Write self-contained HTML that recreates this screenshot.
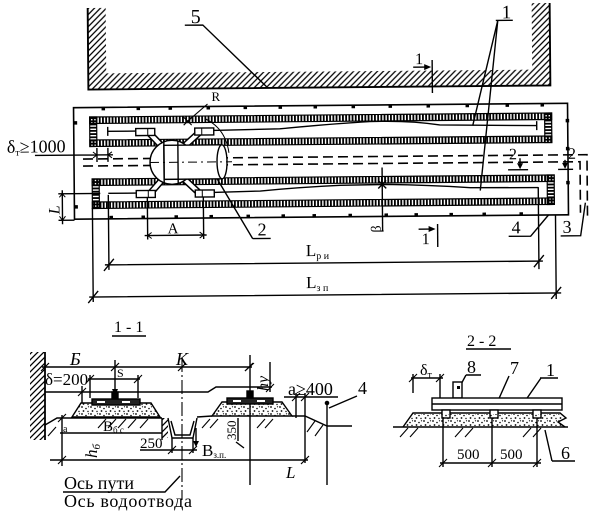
<!DOCTYPE html>
<html><head><meta charset="utf-8"><style>
html,body{margin:0;padding:0;background:#fff;}
svg{display:block;}
text{font-family:"Liberation Serif",serif;fill:#000;stroke:none;}
</style></head><body>
<svg width="600" height="511" viewBox="0 0 600 511" xmlns="http://www.w3.org/2000/svg">
<defs>
<pattern id="h" patternUnits="userSpaceOnUse" width="6" height="6"><path d="M0,6 L6,0 M-1,1 L1,-1 M5,7 L7,5" stroke="#000" stroke-width="1.3"/></pattern>
<pattern id="vt" patternUnits="userSpaceOnUse" width="3.2" height="10"><rect width="1.8" height="10" fill="#000"/></pattern>
<pattern id="ht" patternUnits="userSpaceOnUse" width="10" height="3.2"><rect width="10" height="1.8" fill="#000"/></pattern>
<pattern id="d" patternUnits="userSpaceOnUse" width="9" height="7"><circle cx="1" cy="1" r="0.9"/><circle cx="5" cy="2.5" r="0.8"/><circle cx="2.5" cy="5" r="0.9"/><circle cx="7" cy="5.5" r="0.7"/><circle cx="7.5" cy="0.8" r="0.6"/></pattern>
</defs>

<!-- ================= PLAN ================= -->
<g transform="rotate(-0.5 320 160)" fill="none" stroke="#000" stroke-width="1.4">
  <!-- walls -->
  <path d="M89,6 L107,6 L107,71.5 L533,71.5 L533,5 L551,5 L551,87.5 L89,87.5 Z" fill="url(#h)" stroke="none"/>
  <path d="M89,6 L89,87.5 L551,87.5 L551,5" stroke-width="1.9"/>
  <!-- leader 5 -->
  <text x="192" y="22" font-size="20">5</text>
  <path d="M186,24 L204,24 L268,87"/>
  <!-- leader 1 -->
  <text x="503" y="20" font-size="19">1</text>
  <path d="M497,22 L514,22 M499,22 L473,127 M499,22 L480,192"/>
  <!-- section mark 1 top -->
  <text x="416" y="65" font-size="16">1</text>
  <path d="M414,68 L428,68"/><polygon points="432,68 425,65 425,71" fill="#000" stroke="none"/>
  <path d="M433,61 L433,94"/>

  <!-- outer platform -->
  <path d="M74,105.5 L568,105.5 L568,217 L74,217 Z" stroke-width="1.6"/>
  <g fill="#000" stroke="none">
    <rect x="102" y="105" width="3.5" height="3.5"/><rect x="137" y="105" width="3.5" height="3.5"/><rect x="169" y="105" width="3.5" height="3.5"/><rect x="207" y="105" width="3.5" height="3.5"/><rect x="244" y="105" width="3.5" height="3.5"/><rect x="279" y="105" width="3.5" height="3.5"/><rect x="314" y="105" width="3.5" height="3.5"/><rect x="352" y="105" width="3.5" height="3.5"/><rect x="389" y="105" width="3.5" height="3.5"/><rect x="427" y="105" width="3.5" height="3.5"/><rect x="466" y="105" width="3.5" height="3.5"/><rect x="506" y="105" width="3.5" height="3.5"/><rect x="541" y="105" width="3.5" height="3.5"/>
    <rect x="109" y="214" width="3.5" height="3.5"/><rect x="141" y="214" width="3.5" height="3.5"/><rect x="174" y="214" width="3.5" height="3.5"/><rect x="209" y="214" width="3.5" height="3.5"/><rect x="246" y="214" width="3.5" height="3.5"/><rect x="281" y="214" width="3.5" height="3.5"/><rect x="312" y="214" width="3.5" height="3.5"/><rect x="348" y="214" width="3.5" height="3.5"/><rect x="384" y="214" width="3.5" height="3.5"/><rect x="414" y="214" width="3.5" height="3.5"/><rect x="449" y="214" width="3.5" height="3.5"/><rect x="482" y="214" width="3.5" height="3.5"/><rect x="519" y="214" width="3.5" height="3.5"/>
    <rect x="74" y="119" width="3.5" height="3.5"/><rect x="74" y="203" width="3.5" height="3.5"/>
    <rect x="566" y="121" width="3.5" height="3.5"/><rect x="566" y="149" width="3.5" height="3.5"/><rect x="566" y="183" width="3.5" height="3.5"/>
  </g>

  <!-- dashed rail lines -->
  <path d="M83,157 L587,157 L587,222 M83,164 L580,164 L580,215" stroke-dasharray="10,5" stroke-width="1.6"/>

  <!-- upper track loop -->
  <rect x="90" y="115" width="462" height="6.5" fill="url(#vt)" stroke-width="1.2"/>
  <rect x="90" y="138" width="462" height="6.5" fill="url(#vt)" stroke-width="1.2"/>
  <rect x="90" y="115" width="7" height="29.5" fill="url(#ht)" stroke-width="1.2"/>
  <rect x="545" y="115" width="7" height="29.5" fill="url(#ht)" stroke-width="1.2"/>
  <!-- lower track loop -->
  <rect x="92" y="177" width="462" height="6.5" fill="url(#vt)" stroke-width="1.2"/>
  <rect x="92" y="200" width="462" height="6.5" fill="url(#vt)" stroke-width="1.2"/>
  <rect x="92" y="177" width="7" height="29.5" fill="url(#ht)" stroke-width="1.2"/>
  <rect x="547" y="177" width="7" height="29.5" fill="url(#ht)" stroke-width="1.2"/>

  <!-- center lines in tracks -->
  <path d="M108,125 L108,134 M108,129.5 L137,129.5 M213,129.5 L280,128.5 Q330,124 370,122 Q410,121 440,126 L537,127.5 M537,123 L537,132"/>
  <path d="M108,191.5 L137,191.5 M213,191.5 L260,190.5 Q300,187 340,185.5 L385,185 Q430,186 470,189 L538,189.5"/>
  <path d="M378,181 L386,189 M386,181 L378,189"/>

  <!-- turntable / car -->
  <g stroke="#000">
    <path d="M165,148 L149,131 M181,148 L200,131 M165,175 L149,193 M181,175 L200,193" stroke-width="7"/>
    <path d="M165,148 L149,131 M181,148 L200,131 M165,175 L149,193 M181,175 L200,193" stroke="#fff" stroke-width="4"/>
    <circle cx="172" cy="161" r="22" fill="#fff"/>
    <rect x="164" y="144" width="58" height="34" fill="#fff"/>
    <ellipse cx="222" cy="161" rx="5" ry="17" fill="#fff"/>
    <path d="M164,140 L164,182 M178,139 L178,183"/>
    <path d="M150,161 L232,161" stroke-dasharray="9,4,2,4" stroke-width="1"/>
    <rect x="136" y="127" width="19" height="7" fill="#fff"/>
    <rect x="195" y="127" width="19" height="7" fill="#fff"/>
    <rect x="136" y="189" width="19" height="7" fill="#fff"/>
    <rect x="195" y="189" width="19" height="7" fill="#fff"/>
    <path d="M148,127 L148,134 M202,127 L202,134 M148,189 L148,196 M202,189 L202,196" stroke-width="1"/>
    <path d="M206,118 Q226,128 229,152" stroke-width="1"/>
  </g>
  <!-- R -->
  <text x="212" y="100" font-size="13">R</text>
  <path d="M208,103 L188,120 M184,116 L192,124 M192,116 L184,124" stroke-width="1.1"/>

  <!-- delta_t >= 1000 -->
  <text x="7" y="150" font-size="18">δ<tspan font-size="10" dy="3">т</tspan><tspan dy="-3">≥1000</tspan></text>
  <path d="M35,153 L113,153 M97,146 L97,160 M108,146 L108,160"/>
  <path d="M93,150 L97,153 L93,156 M112,150 L108,153 L112,156" stroke-width="1"/>

  <!-- L dim left -->
  <path d="M58,191.5 L100,191.5 M58,218 L74,218 M62,188 L62,222"/>
  <path d="M59,195 L62,191.5 L65,195 M59,214 L62,218 L65,214" stroke-width="1"/>
  <text transform="translate(59,212) rotate(-90)" font-size="16" font-style="italic">L</text>

  <!-- A dim -->
  <path d="M147,196 L147,238 M203,196 L203,238 M144,234 L206,234"/>
  <path d="M151,231 L147,234 L151,237 M199,231 L203,234 L199,237" stroke-width="1"/>
  <text x="167" y="232" font-size="15">A</text>

  <!-- leader 2 -->
  <text x="257" y="235" font-size="18">2</text>
  <path d="M252,238 L270,238 M252,238 L217,178"/>

  <!-- beta -->
  <path d="M382,168 L382,232"/>
  <text transform="translate(380,233) rotate(-90)" font-size="14">β</text>

  <!-- section mark 1 bottom -->
  <text x="421" y="245" font-size="16">1</text>
  <path d="M418,230 L430,230"/><polygon points="435,230 428,227 428,233" fill="#000" stroke="none"/>
  <path d="M437,225 L437,248"/>

  <!-- section marks 2 -->
  <text x="509" y="161" font-size="16">2</text>
  <path d="M520,160 L520,168 M508,171.5 L528,171.5"/><polygon points="520,171 517,165 523,165" fill="#000" stroke="none"/>
  <text x="568" y="161" font-size="16">2</text>
  <path d="M565,162 L565,168 M558,171.5 L573,171.5"/><polygon points="565,171 562,165 568,165" fill="#000" stroke="none"/>

  <!-- leaders 4, 3 -->
  <text x="511" y="235" font-size="18">4</text>
  <path d="M508,238 L530,238 L548,217"/>
  <text x="562" y="235" font-size="18">3</text>
  <path d="M560,238 L580,238 L585,205"/>

  <!-- extension lines & overall dims -->
  <path d="M108,193 L108,268 M92,206 L92,300 M538,189 L538,271 M555,217 L555,301"/>
  <path d="M104,263 L542,263 M88,295 L560,295"/>
  <path d="M103,269 L113,257 M533,269 L543,257 M87,301 L97,289 M550,301 L560,289" stroke-width="1.4"/>
  <text x="305" y="256" font-size="17">L<tspan font-size="10" dy="3">р и</tspan></text>
  <text x="305" y="288" font-size="17">L<tspan font-size="10" dy="3">з п</tspan></text>
</g>

<!-- ================= SECTION 1-1 ================= -->
<g fill="none" stroke="#000" stroke-width="1.4">
  <text x="114" y="332" font-size="16">1 - 1</text>
  <path d="M112,336 L146,336"/>
  <!-- wall -->
  <rect x="30" y="352" width="15" height="88" fill="url(#h)" stroke="none"/>
  <path d="M45,352 L45,440" stroke-width="1.8"/>
  <text x="70" y="365" font-size="18" font-style="italic">Б</text>
  <text x="176" y="365" font-size="18" font-style="italic">K</text>
  <path d="M42,367 L252,367"/>
  <path d="M41,371 L49,363 M111,371 L119,363 M178,371 L186,363 M245,371 L253,363" stroke-width="1.2"/>
  <path d="M115,360 L115,398"/><polygon points="112,389 118,389 115,396" fill="#000" stroke="none"/>
  <path d="M182,358 L182,500" stroke-dasharray="14,3,2,3" stroke-width="1.1"/>
  <path d="M250,355 L250,485"/>
  <!-- delta=200, S -->
  <text x="45" y="385" font-size="17">δ=200</text>
  <text x="117" y="377" font-size="12">S</text>
  <path d="M88,379 L140,379 M90,375 L90,398 M138,375 L138,398"/>
  <path d="M86,383 L94,375 M134,383 L142,375" stroke-width="1.1"/>
  <path d="M45,392 L208,392 L216,387 L272,387 M82,386 L82,403"/>
  <path d="M78,396 L86,388" stroke-width="1.1"/>
  <!-- hy -->
  <path d="M270,362 L270,392"/>
  <path d="M245,371 L254,363 M266,392 L274,384" stroke-width="1.1"/>
  <text transform="translate(268,391) rotate(-90)" font-size="16" font-style="italic">hy</text>
  <!-- left ballast -->
  <polygon points="72,417 81,403 151,403 160,417" fill="url(#d)"/>
  <rect x="92" y="399" width="48" height="6" fill="#222"/>
  <rect x="97" y="401" width="8" height="2" fill="#fff" stroke="none"/><rect x="122" y="401" width="8" height="2" fill="#fff" stroke="none"/>
  <rect x="112" y="392" width="6" height="7" fill="#000"/>
  <!-- ground left -->
  <path d="M45,425 L57,418 L162,418 M60,433 L162,433"/>
  <path d="M162,418 L162,440"/>
  <rect x="162" y="418" width="6" height="20" fill="url(#h)" stroke="none"/>
  <path d="M168,418 L172,438 L193,438 L197,418 M171,421 L175,435 L190,435 L194,421"/>
  <path d="M197,417 L212,416"/>
  <path d="M98,428 L106,419 M108,428 L116,419 M118,428 L126,419 M128,428 L136,419 M140,428 L148,419 M48,436 L56,427" stroke-width="1.1"/>
  <text x="63" y="432" font-size="10">a</text>
  <text x="103" y="431" font-size="15">B<tspan font-size="9" dy="2">б с</tspan></text>
  <!-- hb -->
  <path d="M62,415 L62,466"/>
  <path d="M58,422 L66,414 M58,464 L66,456" stroke-width="1.1"/>
  <text transform="translate(97,458) rotate(-90)" font-size="17" font-style="italic">h<tspan font-size="11" dy="3">б</tspan></text>
  <path d="M50,460 L308,460"/>
  <path d="M301,464 L309,456" stroke-width="1.2"/>
  <!-- 250 -->
  <text x="140" y="448" font-size="15">250</text>
  <path d="M140,450 L197,450 M172,438 L172,453 M193,438 L193,453"/>
  <path d="M168,454 L176,446 M189,454 L197,446" stroke-width="1.1"/>
  <path d="M196,428 L196,445"/><polygon points="196,447 193,441 199,441" fill="#000" stroke="none"/>
  <text x="202" y="456" font-size="17">B<tspan font-size="9" dy="2">з.п.</tspan></text>
  <!-- right ballast -->
  <polygon points="212,416 222,402 282,402 292,416" fill="url(#d)"/>
  <rect x="227" y="398" width="46" height="6" fill="#222"/>
  <rect x="233" y="400" width="8" height="2" fill="#fff" stroke="none"/><rect x="257" y="400" width="8" height="2" fill="#fff" stroke="none"/>
  <rect x="247" y="391" width="6" height="7" fill="#000"/>
  <path d="M292,416 L305,416 L327,426 L352,426"/>
  <path d="M202,428 L210,419 M210,428 L218,419 M257,428 L265,419 M265,428 L273,419 M307,432 L315,421 M315,436 L323,425" stroke-width="1.1"/>
  <!-- 350 -->
  <path d="M238,418 L238,441 M236,442 L244,448"/>
  <text transform="translate(236,440) rotate(-90)" font-size="13">350</text>
  <!-- a>=400 -->
  <text x="288" y="395" font-size="18">a≥400</text>
  <path d="M284,397 L338,397 M296,393 L296,418 M305,393 L305,463"/>
  <path d="M292,401 L300,393 M301,401 L309,393" stroke-width="1.1"/>
  <text x="358" y="394" font-size="18">4</text>
  <path d="M357,396 L329,408 M327,403 L327,485"/>
  <circle cx="327" cy="403" r="1.6" fill="#000"/>
  <text x="286" y="478" font-size="17" font-style="italic">L</text>
  <!-- axes labels -->
  <text x="64" y="489" font-size="18" textLength="70">Ось пути</text>
  <path d="M63,492 L165,492 L180,476"/>
  <text x="64" y="507" font-size="18" textLength="128">Ось водоотвода</text>
</g>

<!-- ================= SECTION 2-2 ================= -->
<g fill="none" stroke="#000" stroke-width="1.4">
  <text x="467" y="346" font-size="16">2 - 2</text>
  <path d="M466,349 L511,349"/>
  <text x="420" y="375" font-size="16">δ<tspan font-size="10" dy="3">т</tspan></text>
  <path d="M411,378 L443,378 M413,374 L413,393 M440,374 L440,400"/>
  <path d="M409,382 L417,374 M436,382 L444,374" stroke-width="1.1"/>
  <text x="467" y="373" font-size="18">8</text>
  <path d="M466,375 L481,375 M466,375 L459,388"/>
  <rect x="453" y="382" width="9" height="16" fill="#fff"/>
  <rect x="457" y="386" width="3" height="3" fill="#000" stroke="none"/>
  <text x="510" y="374" font-size="18">7</text>
  <path d="M509,376 L493,412"/>
  <text x="546" y="376" font-size="18">1</text>
  <path d="M540,378 L558,378 M541,378 L523,404"/>
  <!-- beam -->
  <rect x="432" y="398" width="130" height="12" fill="#fff"/>
  <path d="M432,404 L562,404"/>
  <rect x="442" y="410" width="8" height="8" fill="#fff"/>
  <rect x="490" y="410" width="8" height="8" fill="#fff"/>
  <rect x="533" y="410" width="8" height="8" fill="#fff"/>
  <!-- ballast 6 -->
  <path d="M403,427 L413,413 L442,413 M450,413 L490,413 M498,413 L533,413 M541,413 L560,413 L566,418 L558,422 L565,427" fill="none"/>
  <polygon points="404,426 413,414 559,414 564,418 557,422 563,426" fill="url(#d)" stroke="none"/>
  <path d="M393,427 L568,427"/>
  <path d="M400,437 L408,428 M410,437 L418,428 M455,437 L463,428 M465,437 L473,428 M523,437 L531,428 M533,437 L541,428" stroke-width="1.1"/>
  <text x="561" y="459" font-size="18">6</text>
  <path d="M552,461 L575,461 M552,461 L545,430"/>
  <!-- 500 500 -->
  <path d="M443,418 L443,467 M492,418 L492,467 M537,418 L537,467 M440,463 L541,463"/>
  <path d="M439,467 L447,459 M488,467 L496,459 M533,467 L541,459" stroke-width="1.1"/>
  <text x="457" y="459" font-size="15">500</text>
  <text x="500" y="459" font-size="15">500</text>
</g>
</svg>
</body></html>
